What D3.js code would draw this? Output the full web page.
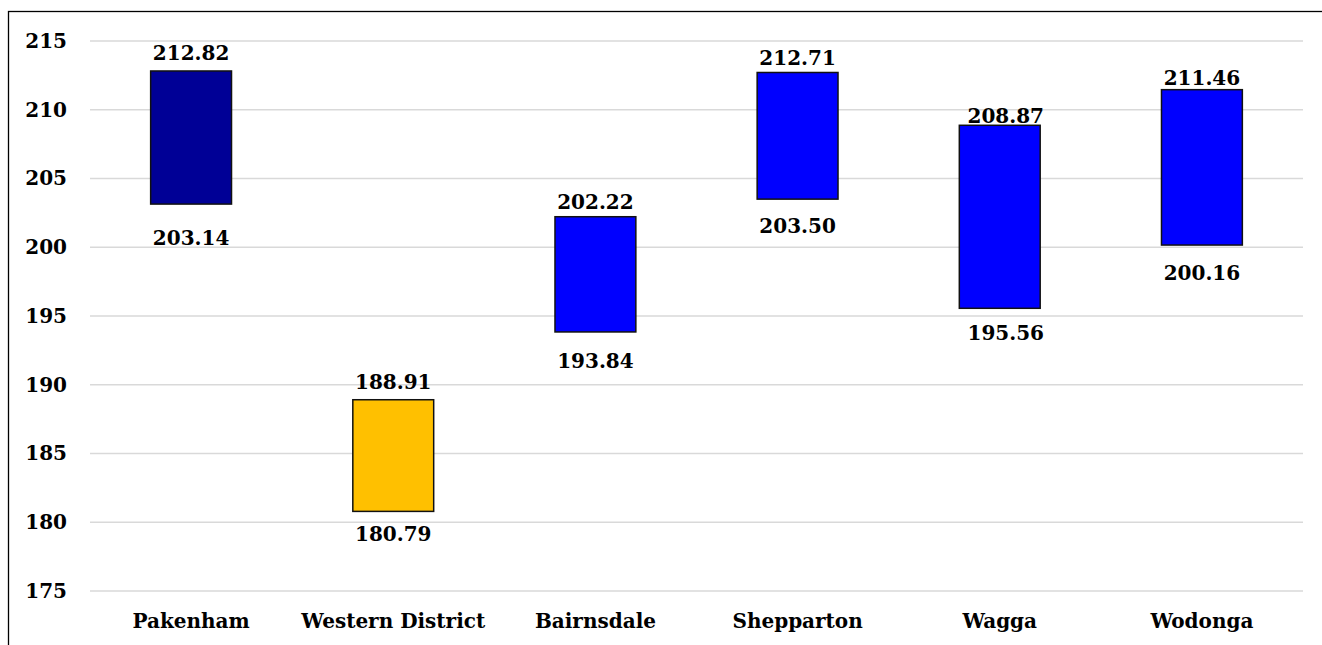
<!DOCTYPE html>
<html><head><meta charset="utf-8">
<script src="https://cdn.jsdelivr.net/npm/d3@7"></script>
<style>html,body{margin:0;padding:0;background:#fff;overflow:hidden}</style>
</head><body>
<svg id="chart" width="1322" height="645"></svg>
<script>
// ---- data ----
const categories = ["Pakenham", "Western District", "Bairnsdale", "Shepparton", "Wagga", "Wodonga"];
const lowValues  = [203.14, 180.79, 193.84, 203.50, 195.56, 200.16];
const highValues = [212.82, 188.91, 202.22, 212.71, 208.87, 211.46];
const yTicks = [175, 180, 185, 190, 195, 200, 205, 210, 215];

// ---- styling / layout ----
const barColors = ["#000096", "#FFC000", "#0000FF", "#0000FF", "#0000FF", "#0000FF"];
const topLabelGap = [11.4, 10.7, 7.3, 7.3, 2, 5];
const bottomLabelGap = [41, 30, 36, 34, 31.7, 35];
const labelDx = [0, 0, 0, 0, 6, 0];
const FONT = "'DejaVu Serif', serif";
const FS = 20;

const svg = d3.select("#chart");
const x0 = 90, x1 = 1303, yTop = 41, yBot = 591;

const x = d3.scaleBand().domain(categories).range([x0, x1]).paddingInner(0.6).paddingOuter(0.3);
const y = d3.scaleLinear().domain([175, 215]).range([yBot, yTop]);

// frame
svg.append("rect").attr("x", 8.5).attr("y", 11.5).attr("width", 1400).attr("height", 800)
  .attr("fill", "none").attr("stroke", "#000").attr("stroke-width", 1.3);

// gridlines
svg.append("g").selectAll("line").data(yTicks).join("line")
  .attr("x1", x0).attr("x2", x1)
  .attr("y1", d => y(d)).attr("y2", d => y(d))
  .attr("stroke", "#d9d9d9").attr("stroke-width", 1.5);

// y axis
const yAxis = svg.append("g").attr("transform", `translate(${x0},0)`)
  .call(d3.axisLeft(y).tickValues(yTicks).tickSize(0).tickPadding(23).tickFormat(d3.format("d")));
yAxis.select(".domain").remove();
yAxis.selectAll("text").attr("font-family", FONT).attr("font-weight", "bold")
  .attr("font-size", FS).attr("fill", "#000");

// x axis
const xAxis = svg.append("g").attr("transform", `translate(0,${yBot})`)
  .call(d3.axisBottom(x).tickSize(0).tickPadding(23));
xAxis.select(".domain").remove();
xAxis.selectAll("text").attr("font-family", FONT).attr("font-weight", "bold")
  .attr("font-size", FS).attr("fill", "#000");

const idx = d3.range(categories.length);

// bars
svg.append("g").selectAll("rect").data(idx).join("rect")
  .attr("x", i => x(categories[i]))
  .attr("width", x.bandwidth())
  .attr("y", i => y(highValues[i]))
  .attr("height", i => y(lowValues[i]) - y(highValues[i]))
  .attr("fill", i => barColors[i])
  .attr("stroke", "#111").attr("stroke-width", 1.5);

// labels
const lbl = svg.append("g").attr("font-family", FONT).attr("font-weight", "bold")
  .attr("font-size", FS).attr("fill", "#000").attr("text-anchor", "middle");
lbl.selectAll("text.hi").data(idx).join("text").attr("class", "hi")
  .attr("x", i => x(categories[i]) + x.bandwidth() / 2 + labelDx[i])
  .attr("y", i => y(highValues[i]) - topLabelGap[i])
  .text(i => highValues[i].toFixed(2));
lbl.selectAll("text.lo").data(idx).join("text").attr("class", "lo")
  .attr("x", i => x(categories[i]) + x.bandwidth() / 2 + labelDx[i])
  .attr("y", i => y(lowValues[i]) + bottomLabelGap[i])
  .text(i => lowValues[i].toFixed(2));
</script>
</body></html>
